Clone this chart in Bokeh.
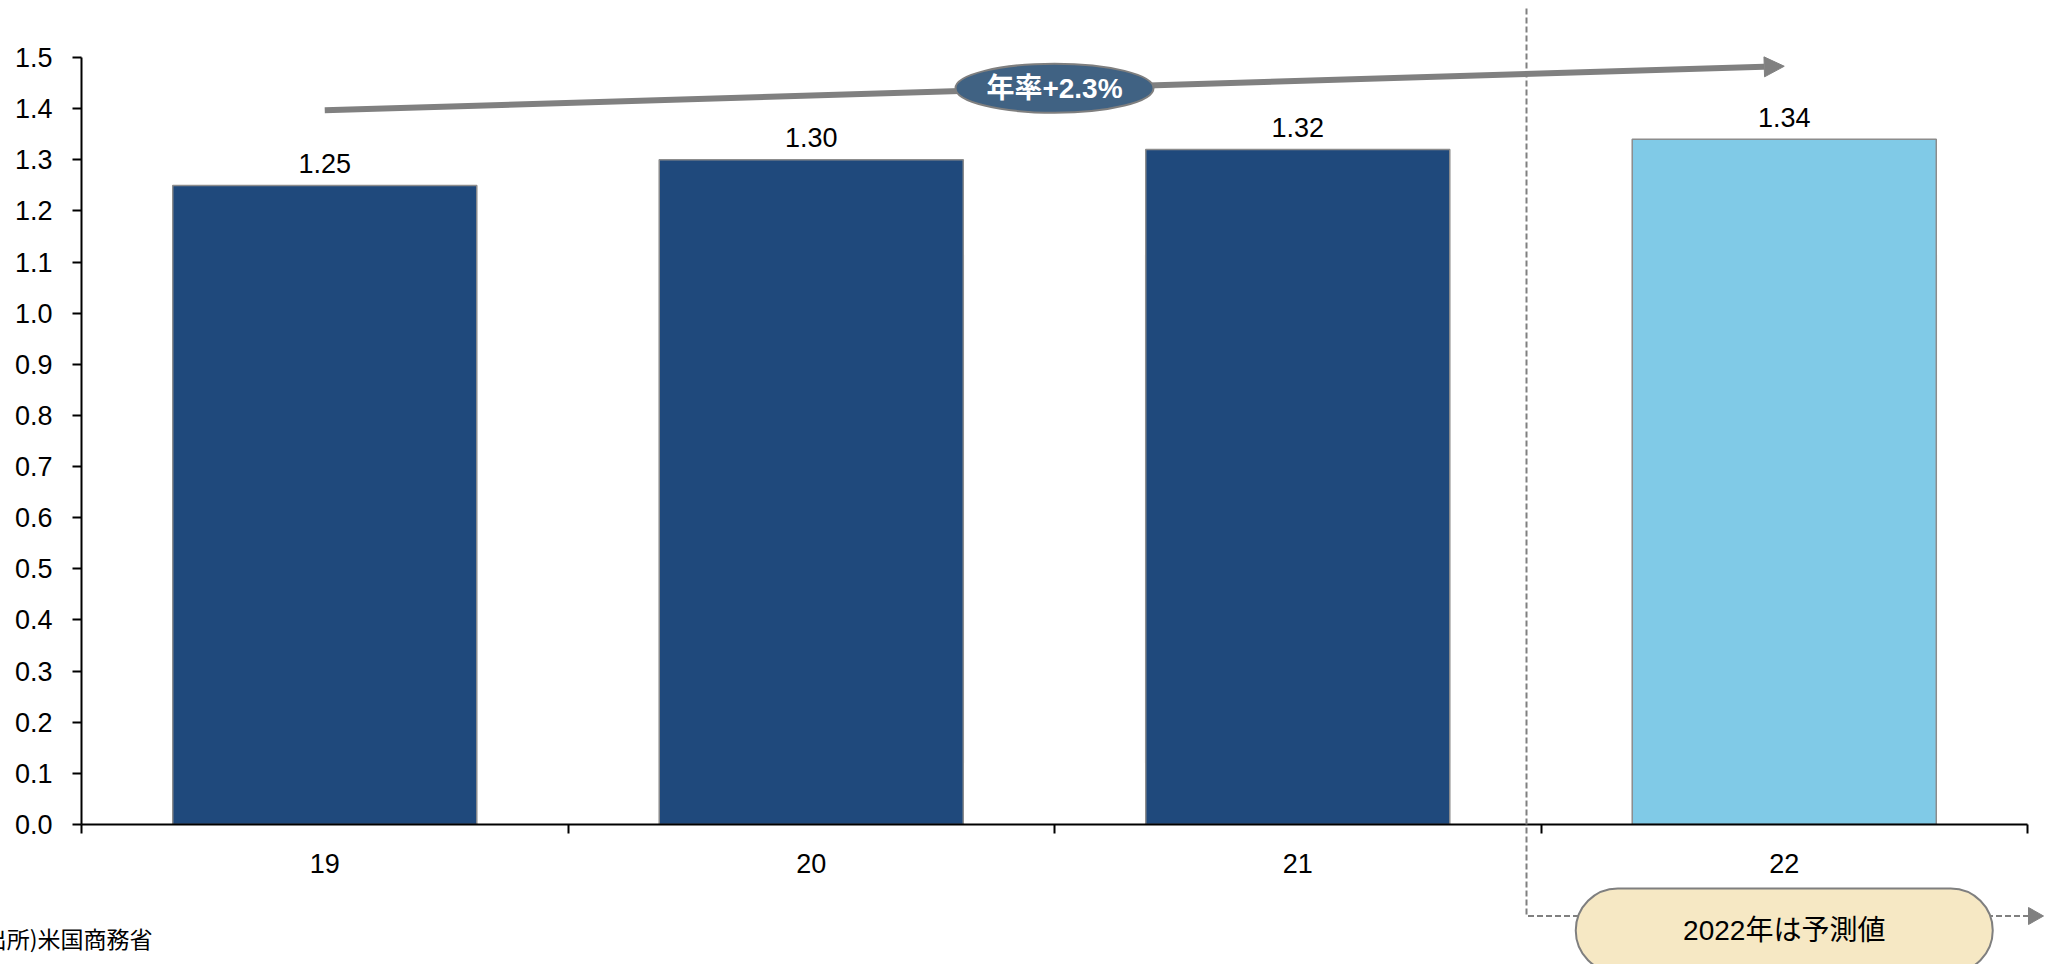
from bokeh.plotting import figure
from bokeh.models import Range1d, FixedTicker, NumeralTickFormatter, Arrow, NormalHead
from bokeh.core.properties import value
from bokeh.embed import file_html
from bokeh.resources import INLINE

# --- data -------------------------------------------------------------
years = ["19", "20", "21", "22"]
sales = [1.25, 1.30, 1.32, 1.34]
bar_colors = ["#1F497C", "#1F497C", "#1F497C", "#80CAE7"]
y_ticks = [0.0, 0.1, 0.2, 0.3, 0.4, 0.5, 0.6, 0.7, 0.8, 0.9, 1.0, 1.1, 1.2, 1.3, 1.4, 1.5]
trend_label = "年率+2.3%"
trend_start = 1.397
trend_end = 1.483
forecast_note = "2022年は予測値"
source_note = "出所)米国商務省"

# --- layout -----------------------------------------------------------
W, H = 2049, 964
LEFT, BOTTOM = 81, 140
px_x = 486.5          # pixels per category
px_y = 511.3          # pixels per unit of value
frame_w = W - LEFT
frame_h = H - BOTTOM


def dx(px):
    """Horizontal canvas pixel -> x data coordinate."""
    return (px - LEFT) / px_x


def dy(px):
    """Vertical canvas pixel (from top) -> y data coordinate."""
    return (frame_h - px) / px_y


FONT_NUM = "Liberation Sans, Noto Sans CJK JP"
NUM = value(FONT_NUM)
JP = value("Noto Sans CJK JP")
GRAY = "#808080"

p = figure(width=W, height=H, output_backend="svg", toolbar_location=None,
           x_range=Range1d(0, frame_w / px_x), y_range=Range1d(0, frame_h / px_y),
           min_border_left=LEFT, min_border_right=0, min_border_top=0,
           min_border_bottom=BOTTOM)
p.outline_line_color = None
p.xgrid.visible = False
p.ygrid.visible = False
p.background_fill_color = "white"
p.border_fill_color = "white"

n = len(years)
centers = [i + 0.5 for i in range(n)]

# x axis: ticks on category boundaries, labels centred in each category
xa = p.xaxis[0]
xa.ticker = FixedTicker(ticks=centers, minor_ticks=list(range(n + 1)))
xa.major_label_overrides = {c: y for c, y in zip(centers, years)}
xa.bounds = (0, n)
xa.major_tick_in = 0
xa.major_tick_out = 0
xa.minor_tick_in = 0
xa.minor_tick_out = 9
xa.minor_tick_line_color = "black"
xa.minor_tick_line_width = 2
xa.axis_line_color = "black"
xa.axis_line_width = 2
xa.major_label_standoff = 20
xa.major_label_text_font = FONT_NUM
xa.major_label_text_font_size = "27px"
xa.major_label_text_color = "black"

ya = p.yaxis[0]
ya.ticker = FixedTicker(ticks=y_ticks, minor_ticks=[])
ya.formatter = NumeralTickFormatter(format="0.0")
ya.bounds = (0, y_ticks[-1])
ya.major_tick_in = 0
ya.major_tick_out = 9
ya.major_tick_line_color = "black"
ya.major_tick_line_width = 2
ya.minor_tick_out = 0
ya.minor_tick_in = 0
ya.axis_line_color = "black"
ya.axis_line_width = 2
ya.major_label_standoff = 20
ya.major_label_text_font = FONT_NUM
ya.major_label_text_font_size = "27px"
ya.major_label_text_color = "black"

# bars and their value labels
p.vbar(x=centers, top=sales, width=0.625, fill_color=bar_colors,
       line_color="#8C8C8C", line_width=1.5)
p.text(x=centers, y=sales, text=[f"{v:.2f}" for v in sales],
       text_align="center", text_baseline="alphabetic", y_offset=-22,
       text_font=NUM, text_font_size="27px", text_color="black")

# growth trend arrow across the bars
p.add_layout(Arrow(x_start=centers[0], y_start=trend_start,
                   x_end=centers[-1], y_end=trend_end,
                   line_color=GRAY, line_width=6,
                   end=NormalHead(size=20, fill_color=GRAY, line_color=GRAY, line_width=1)))

# forecast divider: dashed line down past the axis, then right to an arrow head
split_x = dx(1526)
note_y = dy(915.5)
base_x, tip_x = dx(2028), dx(2043)
p.line(x=[split_x, split_x, base_x], y=[dy(8), note_y, note_y],
       line_color=GRAY, line_width=2, line_dash="6 3", level="overlay")
p.patch(x=[base_x, tip_x, base_x], y=[dy(907), note_y, dy(924)],
        fill_color=GRAY, line_color=GRAY, line_width=1, level="overlay")

# trend badge
mid_x = (centers[0] + centers[-1]) / 2
mid_y = (trend_start + trend_end) / 2
p.ellipse(x=[mid_x], y=[mid_y], width=198, height=49,
          width_units="screen", height_units="screen",
          fill_color="#406283", line_color="#7F7F7F", line_width=2, level="overlay")
p.text(x=[mid_x], y=[mid_y], text=[trend_label], text_align="center",
       text_baseline="middle", text_font=NUM, text_font_size="28px",
       text_font_style="bold", text_color="white", level="overlay")

# forecast note pill below the last category
pill_y = dy(930)
p.rect(x=[centers[-1]], y=[pill_y], width=417, height=84,
       width_units="screen", height_units="screen", border_radius=42,
       fill_color="#F6E8C4", line_color="#7F7F7F", line_width=2, level="overlay")
p.text(x=[centers[-1]], y=[pill_y], text=[forecast_note], text_align="center",
       text_baseline="middle", text_font=NUM, text_font_size="28px",
       text_color="black", level="overlay")

# source footnote
p.text(x=[dx(152)], y=[dy(937)], text=[source_note],
       text_align="right", text_baseline="middle", text_font=JP,
       text_font_size="23px", text_color="black", level="overlay")

open("out.html", "w").write(file_html(p, INLINE))
